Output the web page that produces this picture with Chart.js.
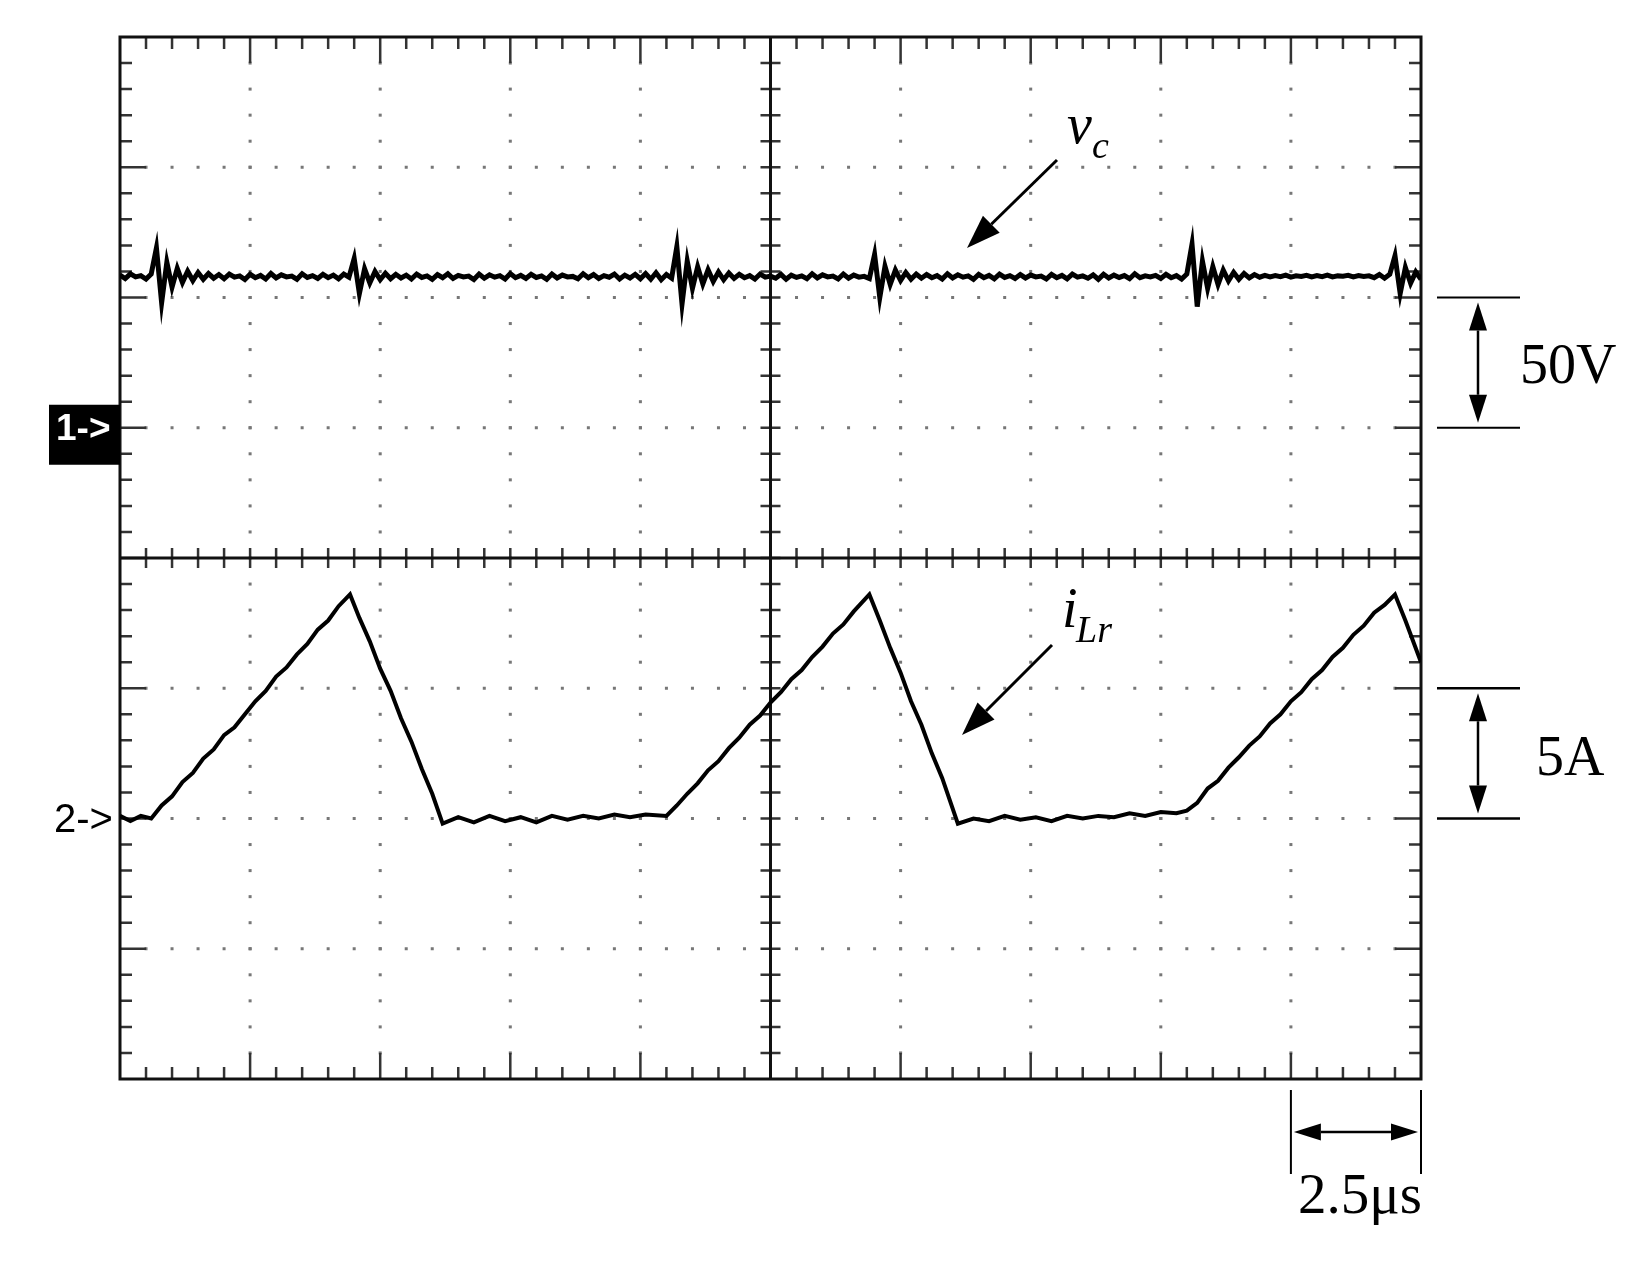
<!DOCTYPE html>
<html><head><meta charset="utf-8">
<script src="https://cdn.jsdelivr.net/npm/chart.js@4.4.1/dist/chart.umd.min.js"></script>
<style>html,body{margin:0;padding:0;background:#fff}canvas{display:block}</style>
</head><body>
<canvas id="c" width="1634" height="1267"></canvas>
<script>
// ---------------- data ----------------
// scope settings
const timePerDiv = 2.5;   // μs / div
const voltsPerDiv = 50;   // channel 1
const ampsPerDiv = 5;     // channel 2
const ch1GroundDiv = 1;   // "1->" marker
const ch2GroundDiv = -2;  // "2->" marker

// channel 1: capacitor voltage vc (V), one sample every vcStep μs from t = 0
const vcStep = 0.1;
const vcVolts = [
  58.6,57.3,59.1,57.9,58.4,57.1,59.0,69.0,48.0,63.5,
  54.0,61.2,55.8,60.1,56.5,59.6,57.0,59.2,57.4,58.8,
  57.2,59.0,57.8,58.3,56.9,58.9,57.6,58.5,57.1,59.2,
  57.5,58.7,57.9,58.2,57.0,59.1,57.7,58.4,57.3,58.9,
  57.6,58.6,57.2,59.0,57.8,65.0,51.5,61.0,55.6,60.0,
  56.8,59.3,57.2,58.9,57.5,58.6,57.1,59.0,57.7,58.3,
  57.0,58.8,57.6,59.1,57.3,58.5,57.9,58.2,56.9,59.0,
  57.4,58.7,57.8,58.4,57.1,59.2,57.6,58.5,57.3,58.9,
  57.7,58.3,57.0,59.0,57.5,58.6,57.9,58.1,57.2,59.1,
  57.6,58.8,57.3,58.4,57.8,59.0,57.1,58.6,57.5,58.9,
  57.2,59.2,57.0,59.5,56.8,58.8,57.4,69.5,47.5,64.0,
  53.5,61.8,55.2,60.6,56.2,59.8,56.8,59.4,57.3,58.9,
  57.6,58.4,57.1,59.0,57.8,58.2,57.4,58.9,57.0,58.6,
  57.7,58.3,57.2,59.1,57.5,58.7,57.9,58.2,57.1,59.0,
  57.4,58.6,57.8,58.1,57.3,66.5,50.0,62.0,55.0,60.5,
  56.5,59.6,57.0,59.0,57.4,58.8,57.6,58.4,57.1,59.1,
  57.5,58.7,57.8,58.3,57.0,58.9,57.6,58.5,57.2,59.0,
  57.7,58.4,57.3,58.8,57.5,58.6,57.9,58.2,57.1,58.9,
  57.6,58.5,57.2,59.0,57.8,58.3,57.4,58.7,57.0,58.9,
  57.5,58.6,57.7,58.4,57.2,59.1,57.6,58.3,57.9,58.5,
  57.3,58.9,57.6,58.4,57.1,59.0,70.5,46.5,64.0,53.5,
  61.8,55.0,60.5,56.4,59.6,57.0,59.2,57.5,58.8,57.8,
  58.5,57.9,58.4,58.0,58.6,57.8,58.3,58.1,58.5,57.9,
  58.4,58.0,58.6,57.9,58.3,58.2,58.5,57.9,58.4,58.1,
  58.3,57.6,58.8,57.4,58.9,66.0,51.5,61.5,55.5,59.8,
  57.0
];
const vcTime = vcVolts.map((_, i) => i * vcStep);

// channel 2: resonant inductor current iLr
const iLrTime = [
  0.0,0.2,0.4,0.6,0.8,1.0,1.2,1.4,1.6,1.8,2.0,2.2,2.4,2.6,2.8,3.0,3.2,3.4,3.6,3.8,4.0,4.2,4.42,
  4.6,4.8,5.0,5.2,5.4,5.6,5.8,6.0,6.2,
  6.5,6.8,7.1,7.4,7.7,8.0,8.3,8.6,8.9,9.2,9.5,9.8,10.1,10.5,
  10.7,10.9,11.1,11.3,11.5,11.7,11.9,12.1,12.3,12.5,12.7,12.9,13.1,13.3,13.5,13.7,13.9,14.1,14.4,
  14.6,14.8,15.0,15.2,15.4,15.6,15.8,16.1,
  16.4,16.7,17.0,17.3,17.6,17.9,18.2,18.5,18.8,19.1,19.4,19.7,20.0,20.3,20.5,
  20.7,20.9,21.1,21.3,21.5,21.7,21.9,22.1,22.3,22.5,22.7,22.9,23.1,23.3,23.5,23.7,23.9,24.1,24.3,24.5,
  24.7,25.0
];
const iLrAmps = [
  0.1,-0.1,0.1,0.0,0.5,0.85,1.4,1.75,2.3,2.65,3.2,3.5,4.0,4.5,4.9,5.45,5.8,6.3,6.7,7.25,7.6,8.15,8.6,
  7.7,6.8,5.75,4.9,3.85,2.95,1.9,0.95,-0.2,
  0.05,-0.15,0.1,-0.1,0.05,-0.15,0.1,-0.05,0.1,0.0,0.15,0.05,0.15,0.1,
  0.5,0.95,1.35,1.85,2.2,2.7,3.1,3.6,3.95,4.45,4.85,5.35,5.7,6.2,6.6,7.1,7.45,7.95,8.6,
  7.6,6.55,5.6,4.5,3.6,2.5,1.55,-0.2,
  0.0,-0.1,0.1,-0.05,0.05,-0.1,0.1,0.0,0.1,0.05,0.2,0.1,0.25,0.2,0.3,
  0.6,1.15,1.45,1.95,2.35,2.8,3.15,3.65,4.0,4.5,4.85,5.35,5.7,6.2,6.55,7.05,7.4,7.9,8.2,8.6,
  7.6,6.0
];

// graticule
const xDivisions = 10, yDivisions = 8, minorPerDiv = 5;

// ---------------- chart ----------------
const vcPoints = vcTime.map((t, i) => ({x: t, y: ch1GroundDiv + vcVolts[i] / voltsPerDiv}));
const iLrPoints = iLrTime.map((t, i) => ({x: t, y: ch2GroundDiv + iLrAmps[i] / ampsPerDiv}));

const graticule = {
  id: 'graticule',
  beforeDatasetsDraw(chart) {
    const {ctx, chartArea: a, scales: {x, y}} = chart;
    const X = v => x.getPixelForValue(v), Y = v => y.getPixelForValue(v);
    const xMax = xDivisions * timePerDiv, yMin = -yDivisions / 2;
    const xc = xMax / 2;
    ctx.save();
    // dotted grid lines
    ctx.fillStyle = '#777';
    for (let d = 1; d < xDivisions; d++) {
      if (d === xDivisions / 2) continue;
      const px = X(d * timePerDiv);
      for (let k = 1; k < yDivisions * minorPerDiv; k++) {
        const py = Y(yMin + k / minorPerDiv);
        ctx.fillRect(px - 1.5, py - 1.5, 3, 3);
      }
    }
    for (let d = 1; d < yDivisions; d++) {
      if (d === yDivisions / 2) continue;
      const py = Y(yMin + d);
      for (let k = 1; k < xDivisions * minorPerDiv; k++) {
        const px = X(k * timePerDiv / minorPerDiv);
        ctx.fillRect(px - 1.5, py - 1.5, 3, 3);
      }
    }
    // border ticks
    ctx.strokeStyle = '#333';
    ctx.lineWidth = 2.5;
    ctx.beginPath();
    for (let k = 1; k < xDivisions * minorPerDiv; k++) {
      const px = X(k * timePerDiv / minorPerDiv);
      const len = (k % minorPerDiv === 0) ? 26 : 12;
      ctx.moveTo(px, a.top); ctx.lineTo(px, a.top + len);
      ctx.moveTo(px, a.bottom); ctx.lineTo(px, a.bottom - len);
      ctx.moveTo(px, Y(0) - 10); ctx.lineTo(px, Y(0) + 10);
    }
    for (let k = 1; k < yDivisions * minorPerDiv; k++) {
      const py = Y(yMin + k / minorPerDiv);
      const len = (k % minorPerDiv === 0) ? 26 : 12;
      ctx.moveTo(a.left, py); ctx.lineTo(a.left + len, py);
      ctx.moveTo(a.right, py); ctx.lineTo(a.right - len, py);
      ctx.moveTo(X(xc) - 10, py); ctx.lineTo(X(xc) + 10, py);
    }
    ctx.stroke();
    // center cross
    ctx.strokeStyle = '#111';
    ctx.lineWidth = 3;
    ctx.beginPath();
    ctx.moveTo(X(xc), a.top); ctx.lineTo(X(xc), a.bottom);
    ctx.moveTo(a.left, Y(0)); ctx.lineTo(a.right, Y(0));
    ctx.stroke();
    // border
    ctx.strokeRect(a.left, a.top, a.right - a.left, a.bottom - a.top);
    ctx.restore();
  }
};

function arrowHead(ctx, x1, y1, x2, y2, len, half) {
  const ang = Math.atan2(y2 - y1, x2 - x1);
  const bx = x2 - len * Math.cos(ang), by = y2 - len * Math.sin(ang);
  ctx.beginPath();
  ctx.moveTo(x2, y2);
  ctx.lineTo(bx + half * Math.sin(ang), by - half * Math.cos(ang));
  ctx.lineTo(bx - half * Math.sin(ang), by + half * Math.cos(ang));
  ctx.closePath();
  ctx.fill();
  return [bx, by];
}
function arrow(ctx, x1, y1, x2, y2, len, half, lw) {
  const [bx, by] = arrowHead(ctx, x1, y1, x2, y2, len, half);
  ctx.lineWidth = lw;
  ctx.beginPath(); ctx.moveTo(x1, y1); ctx.lineTo(bx, by); ctx.stroke();
}
function doubleArrow(ctx, x1, y1, x2, y2, len, half, lw) {
  const [b1x, b1y] = arrowHead(ctx, x2, y2, x1, y1, len, half);
  const [b2x, b2y] = arrowHead(ctx, x1, y1, x2, y2, len, half);
  ctx.lineWidth = lw;
  ctx.beginPath(); ctx.moveTo(b1x, b1y); ctx.lineTo(b2x, b2y); ctx.stroke();
}

const annotations = {
  id: 'annotations',
  afterDraw(chart) {
    const {ctx, chartArea: a, scales: {x, y}} = chart;
    ctx.save();
    ctx.fillStyle = '#000';
    ctx.strokeStyle = '#000';
    // channel markers
    const g1 = y.getPixelForValue(ch1GroundDiv), g2 = y.getPixelForValue(ch2GroundDiv);
    ctx.fillRect(49, g1 - 23, a.left - 49, 60);
    ctx.fillStyle = '#fff';
    ctx.font = 'bold 37px "Liberation Sans", Arial, sans-serif';
    ctx.textBaseline = 'middle';
    ctx.fillText('1->', 56, g1 + 2);
    ctx.fillStyle = '#000';
    ctx.font = '40px "Liberation Sans", Arial, sans-serif';
    ctx.fillText('2->', 54, g2 + 2);
    ctx.textBaseline = 'alphabetic';

    // 50V bracket (one division on channel 1)
    const v0 = y.getPixelForValue(ch1GroundDiv), v1 = y.getPixelForValue(ch1GroundDiv + 1);
    ctx.lineWidth = 2;
    ctx.beginPath();
    ctx.moveTo(1437, v1); ctx.lineTo(1520, v1);
    ctx.moveTo(1437, v0); ctx.lineTo(1520, v0);
    ctx.stroke();
    doubleArrow(ctx, 1478, v1 + 5, 1478, v0 - 5, 28, 9, 2.5);
    ctx.font = '56px "Liberation Serif", "Times New Roman", serif';
    ctx.fillText('50V', 1520, 383);

    // 5A bracket (one division on channel 2)
    const a0 = y.getPixelForValue(ch2GroundDiv), a1 = y.getPixelForValue(ch2GroundDiv + 1);
    ctx.beginPath();
    ctx.moveTo(1437, a1); ctx.lineTo(1520, a1);
    ctx.moveTo(1437, a0); ctx.lineTo(1520, a0);
    ctx.stroke();
    doubleArrow(ctx, 1478, a1 + 5, 1478, a0 - 5, 28, 9, 2.5);
    ctx.fillText('5A', 1536, 775);

    // 2.5μs bracket (one time division)
    const t0 = x.getPixelForValue((xDivisions - 1) * timePerDiv), t1 = x.getPixelForValue(xDivisions * timePerDiv);
    ctx.lineWidth = 2;
    ctx.beginPath();
    ctx.moveTo(t0, 1090); ctx.lineTo(t0, 1174);
    ctx.moveTo(t1, 1090); ctx.lineTo(t1, 1174);
    ctx.stroke();
    doubleArrow(ctx, t0 + 3, 1132, t1 - 3, 1132, 27, 8.5, 2.5);
    ctx.textAlign = 'right';
    ctx.font = '57px "Liberation Serif", "Times New Roman", serif';
    ctx.fillText('2.5\u03bcs', t1 + 1, 1213);
    ctx.textAlign = 'left';

    // vc label and arrow
    ctx.font = 'italic 56px "Liberation Serif", "Times New Roman", serif';
    ctx.fillText('v', 1067, 143);
    ctx.font = 'italic 38px "Liberation Serif", "Times New Roman", serif';
    ctx.fillText('c', 1092, 158);
    arrow(ctx, 1057, 160, 967, 248, 34, 12, 3);

    // iLr label and arrow
    ctx.font = 'italic 56px "Liberation Serif", "Times New Roman", serif';
    ctx.fillText('i', 1062, 627);
    ctx.font = 'italic 38px "Liberation Serif", "Times New Roman", serif';
    ctx.fillText('Lr', 1076, 642);
    arrow(ctx, 1052, 645, 962, 735, 34, 12, 3);
    ctx.restore();
  }
};

new Chart(document.getElementById('c'), {
  type: 'line',
  data: {
    datasets: [
      {label: 'vc', data: vcPoints, borderColor: '#000', borderWidth: 5, pointRadius: 0, tension: 0},
      {label: 'iLr', data: iLrPoints, borderColor: '#000', borderWidth: 4, pointRadius: 0, tension: 0}
    ]
  },
  options: {
    responsive: false,
    animation: false,
    devicePixelRatio: 1,
    layout: {padding: {left: 120, top: 37, right: 213, bottom: 188}},
    plugins: {legend: {display: false}, tooltip: {enabled: false}},
    scales: {
      x: {type: 'linear', min: 0, max: xDivisions * timePerDiv, display: false},
      y: {type: 'linear', min: -yDivisions / 2, max: yDivisions / 2, display: false}
    }
  },
  plugins: [graticule, annotations]
});
</script>
</body></html>
